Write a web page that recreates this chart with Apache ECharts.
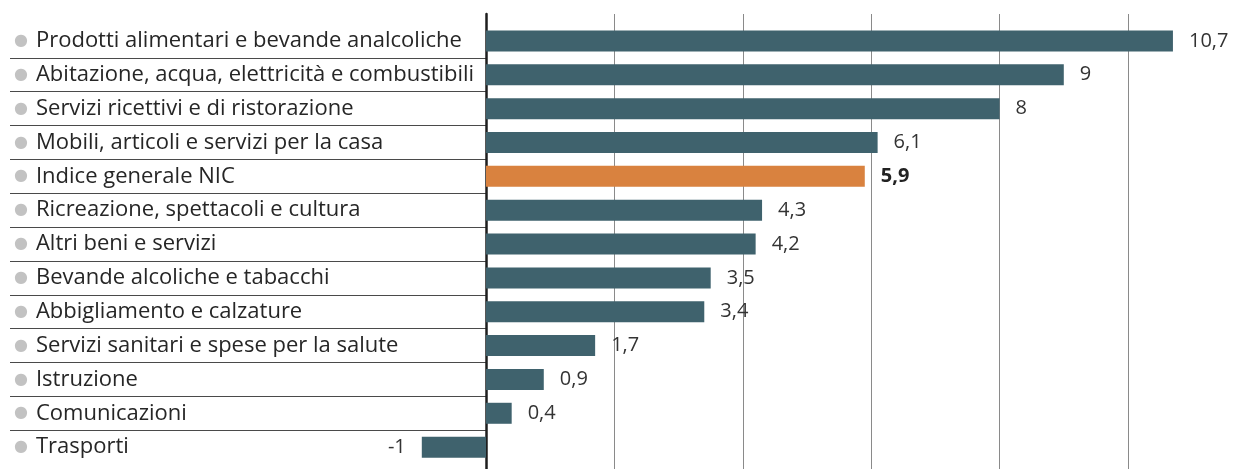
<!DOCTYPE html>
<html>
<head>
<meta charset="utf-8">
<script src="https://cdn.jsdelivr.net/npm/echarts@6/dist/echarts.min.js"></script>
<style>html,body{margin:0;padding:0;background:#fff}#c{width:1239px;height:469px}</style>
</head>
<body>
<div id="c"></div>
<script>
const categories = [
  'Prodotti alimentari e bevande analcoliche',
  'Abitazione, acqua, elettricità e combustibili',
  'Servizi ricettivi e di ristorazione',
  'Mobili, articoli e servizi per la casa',
  'Indice generale NIC',
  'Ricreazione, spettacoli e cultura',
  'Altri beni e servizi',
  'Bevande alcoliche e tabacchi',
  'Abbigliamento e calzature',
  'Servizi sanitari e spese per la salute',
  'Istruzione',
  'Comunicazioni',
  'Trasporti'
];
const values = [10.7, 9, 8, 6.1, 5.9, 4.3, 4.2, 3.5, 3.4, 1.7, 0.9, 0.4, -1];
const highlightCategory = 'Indice generale NIC';

const FONT = '"Open Sans", Lato, sans-serif';
const BAR = '#3f626d';
const ORANGE = '#d9823f';

const unit = 64.2;       // px per unit
const zeroX = 486;
const xMin = -2, xMax = 11.5;
const gridLeft = zeroX + xMin * unit;
const gridWidth = (xMax - xMin) * unit;
const gridRight = 1239 - gridLeft - gridWidth;
const plotTop = 24, band = 33.85;
const n = categories.length;

const fmt = v => String(v).replace('.', ',');

const data = values.map((v, i) => {
  const hl = categories[i] === highlightCategory;
  return {
    value: v,
    itemStyle: { color: hl ? ORANGE : BAR },
    label: {
      position: v < 0 ? 'left' : 'right',
      fontWeight: hl ? 'bold' : 'normal',
      color: hl ? '#222' : '#333'
    }
  };
});

const chart = echarts.init(document.getElementById('c'));
chart.setOption({
  animation: false,
  backgroundColor: '#fff',
  grid: [
    { left: gridLeft, right: gridRight, top: 14, bottom: 0 },
    { left: gridLeft, right: gridRight, top: plotTop, height: band * n },
    { left: 10, width: zeroX - 10, top: plotTop + band, height: band * (n - 2) }
  ],
  xAxis: [
    { gridIndex: 0, type: 'value', min: xMin, max: xMax, interval: 2,
      axisLine: { show: false }, axisTick: { show: false }, axisLabel: { show: false },
      splitLine: { show: true, showMinLine: false, showMaxLine: false, lineStyle: { color: '#8a8a8a', width: 1 } } },
    { gridIndex: 1, type: 'value', min: xMin, max: xMax, interval: 2,
      axisLine: { show: false }, axisTick: { show: false }, axisLabel: { show: false }, splitLine: { show: false } },
    { gridIndex: 2, type: 'value', min: 0, max: 1, show: false }
  ],
  yAxis: [
    { gridIndex: 0, type: 'value', min: 0, max: 1,
      axisLine: { show: true, onZero: true, lineStyle: { color: '#1e1e1e', width: 2.5 } },
      axisTick: { show: false }, axisLabel: { show: false }, splitLine: { show: false } },
    { gridIndex: 1, type: 'category', data: categories, inverse: true,
      axisLine: { show: false }, axisTick: { show: false },
      axisLabel: {
        align: 'left', margin: gridLeft - 14,
        formatter: v => '{d|●}{t|' + v + '}',
        rich: {
          d: { color: '#c2c2c2', fontSize: 16, fontFamily: 'DejaVu Sans', padding: [0, 8, 0, 0] },
          t: { color: '#262626', fontSize: 22, fontFamily: FONT }
        }
      } },
    { gridIndex: 2, type: 'value', min: 1, max: n - 1, interval: 1, inverse: true,
      axisLine: { show: false }, axisTick: { show: false }, axisLabel: { show: false },
      splitLine: { show: true, lineStyle: { color: '#4a4a4a', width: 1 } } }
  ],
  series: [{
    type: 'bar',
    xAxisIndex: 1, yAxisIndex: 1,
    data: data,
    barWidth: 21,
    label: {
      show: true, distance: 16,
      fontFamily: FONT, fontSize: 20,
      formatter: p => fmt(p.value)
    }
  }]
});
</script>
</body>
</html>
